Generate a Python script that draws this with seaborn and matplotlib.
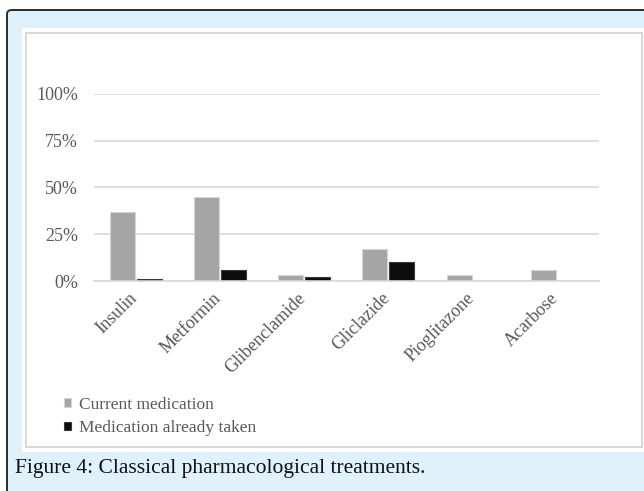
import matplotlib
matplotlib.use("Agg")
import matplotlib.pyplot as plt
import matplotlib.patches as mpatches
import matplotlib.transforms as mtransforms
import seaborn as sns
import pandas as pd

drugs = ["Insulin", "Metformin", "Glibenclamide", "Gliclazide", "Pioglitazone", "Acarbose"]
current = [37, 45, 3, 17, 3, 6]
already_taken = [1, 6, 2, 10, 0, 0]
series_names = ["Current medication", "Medication already taken"]
y_ticks = [0, 25, 50, 75, 100]
caption = "Figure 4: Classical pharmacological treatments."

W, H = 644, 491
GRAY = "#a5a5a5"
BLACK = "#0d0d0d"
TXT = "#595959"
GRID = "#d9d9d9"

df = pd.DataFrame({
    "drug": drugs * 2,
    "serie": [series_names[0]] * len(drugs) + [series_names[1]] * len(drugs),
    "valor": current + already_taken,
})

sns.set_style("white")
plt.rcParams["font.family"] = ["Liberation Serif", "DejaVu Serif"]

fig = plt.figure(figsize=(W / 100, H / 100), dpi=100)
fig.patch.set_facecolor("white")

def px(x, y):
    return x / W, 1 - y / H

# moldura azul com borda escura
x0, y0 = px(7, 10)
fig.patches.append(mpatches.FancyBboxPatch(
    (x0, -0.05), 1.1, y0 + 0.05, boxstyle="round,pad=0,rounding_size=0.008",
    transform=fig.transFigure, facecolor="#dff1fb", edgecolor="#2b2b2b",
    linewidth=1.4, zorder=-3))
# painel branco
a, b = px(22, 452)
fig.patches.append(mpatches.Rectangle(
    (a, b), 1 - a + 0.01, (1 - 28 / H) - b, transform=fig.transFigure,
    facecolor="white", edgecolor="none", zorder=-2))
a, b = px(26, 447)
c, d = px(642, 33)
fig.patches.append(mpatches.Rectangle(
    (a, b), c - a, d - b, transform=fig.transFigure,
    facecolor="none", edgecolor="#d9d9d9", linewidth=1.5, zorder=-1))

left, bottom = px(93.5, 281)
right, top = px(599, 94)
ax = fig.add_axes([left, bottom, right - left, top - bottom])
ax.set_facecolor("none")

sns.barplot(data=df, x="drug", y="valor", hue="serie", palette=[GRAY, BLACK],
            width=0.64, gap=0.07, ax=ax, legend=True)

for bar in ax.patches:
    fc = bar.get_facecolor()
    if fc[0] > 0.5:
        bar.set_edgecolor("#d4d4d4")
    else:
        bar.set_edgecolor("#3a3a3a")
    bar.set_linewidth(0.8)

ax.set_ylim(0, 100)
ax.set_xlim(-0.5, len(drugs) - 0.5)
ax.set_yticks(y_ticks)
ax.set_yticklabels([f"{v}%" for v in y_ticks])
ax.yaxis.grid(True, color=GRID, linewidth=1.2)
ax.set_axisbelow(True)
for s in ["top", "right", "left"]:
    ax.spines[s].set_visible(False)
ax.spines["bottom"].set_color(GRID)
ax.spines["bottom"].set_linewidth(1.2)

ax.set_xticks(range(len(drugs)))
ax.set_xticklabels(drugs, rotation=45, ha="right", rotation_mode="default")
ax.set_xticks([i - 0.5 for i in range(len(drugs) + 1)], minor=True)
ax.tick_params(axis="x", which="major", length=0, pad=6, labelsize=13, labelcolor=TXT)
ax.tick_params(axis="x", which="minor", length=5, color=GRID, width=1.2)
ax.tick_params(axis="y", length=0, pad=11, labelsize=13, labelcolor=TXT)
ax.set_xlabel("")
ax.set_ylabel("")

shift = mtransforms.ScaledTranslation(5 / 100, 0, fig.dpi_scale_trans)
for lbl in ax.get_xticklabels():
    lbl.set_transform(lbl.get_transform() + shift)

handles, labels = ax.get_legend_handles_labels()
ax.legend(handles, labels, loc="upper left", bbox_to_anchor=px(64, 397),
          bbox_transform=fig.transFigure, frameon=False, fontsize=12.5,
          handlelength=0.4, handleheight=0.4, handletextpad=0.45,
          labelspacing=0.42, borderpad=0, borderaxespad=0, labelcolor=TXT)

fig.text(*px(15, 473), caption, fontsize=15.5, color="#111111", va="baseline", ha="left")

plt.savefig("out.png", dpi=100)
plt.close()
